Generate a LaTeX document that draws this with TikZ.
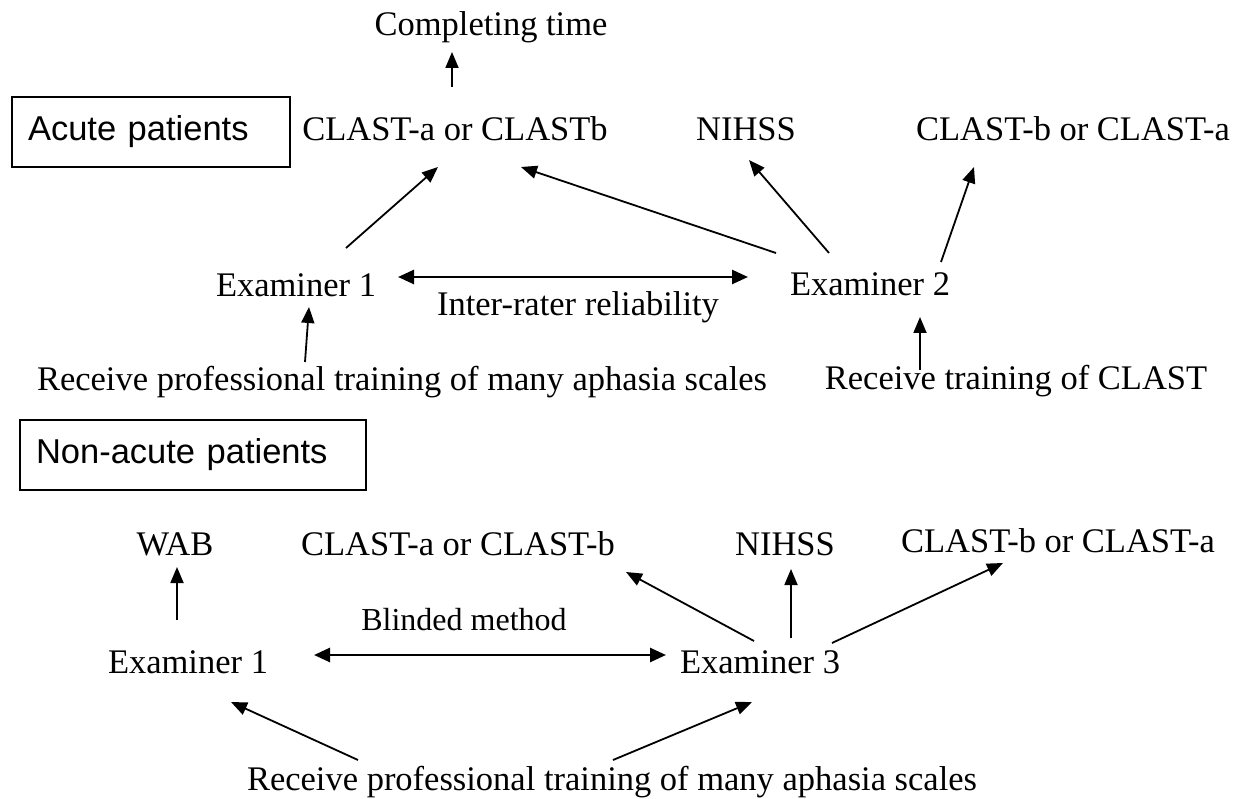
\documentclass[tikz,border=0pt]{standalone}
\usepackage{fontspec}
\setmainfont{Liberation Serif}
\setsansfont{Liberation Sans}
\usetikzlibrary{arrows.meta,calc}
\begin{document}
\begin{tikzpicture}[x=1pt,y=-1pt,
  txt/.style={inner sep=0pt, anchor=base, text height=24pt, text depth=8pt, font=\fontsize{34.5}{40}\selectfont},
  box/.style={draw, line width=1.6pt, font=\sffamily\fontsize{34.5}{40}\selectfont, align=left, inner xsep=16pt, minimum height=70pt},
  arr/.style={line width=1.8pt, -{Triangle[length=16pt,width=13pt]}},
  darr/.style={line width=2.6pt, {Triangle[length=16pt,width=14pt]}-{Triangle[length=16pt,width=14pt]}}
]
\useasboundingbox (0,0) rectangle (1247,799);

% ---------- Acute patients ----------
\node[box, text width=246pt] (ap) at (151,132) {Acute patients};
\node[txt] (ct) at (491,36) {Completing time};
\node[txt] (c1) at (455,141) {CLAST-a or CLASTb};
\node[txt] (n1) at (746,141) {NIHSS};
\node[txt] (c2) at (1073,141) {CLAST-b or CLAST-a};
\node[txt] (e1) at (296,297) {Examiner 1};
\node[txt] (e2) at (870,296) {Examiner 2};
\node[txt] (irr) at (578,316) {Inter-rater reliability};
\node[txt] (r1) at (402,390) {Receive professional training of many aphasia scales};
\node[txt] (r2) at (1016,389) {Receive training of CLAST};

\draw[arr] ($(c1.center)+(-3,-46)$) -- ($(ct.center)+(-39,24)$);
\draw[arr] ($(e1.center)+(50,-41)$) -- ($(c1.center)+(-17,34)$);
\draw[arr] ($(e2.center)+(-94,-35)$) -- ($(c1.center)+(66,34)$);
\draw[arr] ($(e2.center)+(-41,-35)$) -- ($(n1.center)+(3,27)$);
\draw[arr] ($(e2.center)+(71,-26)$) -- ($(c2.center)+(-99,34)$);
\draw[darr] ($(e1.center)+(102,-12)$) -- ($(e2.center)+(-122,-11)$);
\draw[arr] ($(r1.center)+(-97,-20)$) -- ($(e1.center)+(13,18)$);
\draw[arr] ($(r2.center)+(-96,-11)$) -- ($(e2.center)+(50,29)$);

% ---------- Non-acute patients ----------
\node[box, text width=314pt] (nap) at (193,455) {Non-acute patients};
\node[txt] (wab) at (175,555) {WAB};
\node[txt] (c3) at (458,555) {CLAST-a or CLAST-b};
\node[txt] (n2) at (785,555) {NIHSS};
\node[txt] (c4) at (1058,552) {CLAST-b or CLAST-a};
\node[txt, font=\fontsize{32}{38}\selectfont] (bm) at (464,630) {Blinded method};
\node[txt] (e3) at (188,673) {Examiner 1};
\node[txt] (e4) at (760,673) {Examiner 3};
\node[txt] (r3) at (612,790) {Receive professional training of many aphasia scales};

\draw[arr] ($(e3.center)+(-11,-45)$) -- ($(wab.center)+(2,20)$);
\draw[arr] ($(e4.center)+(-6,-24)$) -- ($(c3.center)+(168,25)$);
\draw[arr] ($(e4.center)+(31,-27)$) -- ($(n2.center)+(6,22)$);
\draw[arr] ($(e4.center)+(72,-22)$) -- ($(c4.center)+(-55,19)$);
\draw[darr] ($(e3.center)+(126,-10)$) -- ($(e4.center)+(-94,-10)$);
\draw[arr] ($(r3.center)+(-254,-22)$) -- ($(e3.center)+(43,37)$);
\draw[arr] ($(r3.center)+(1,-22)$) -- ($(e4.center)+(-8,37)$);
\end{tikzpicture}
\end{document}
